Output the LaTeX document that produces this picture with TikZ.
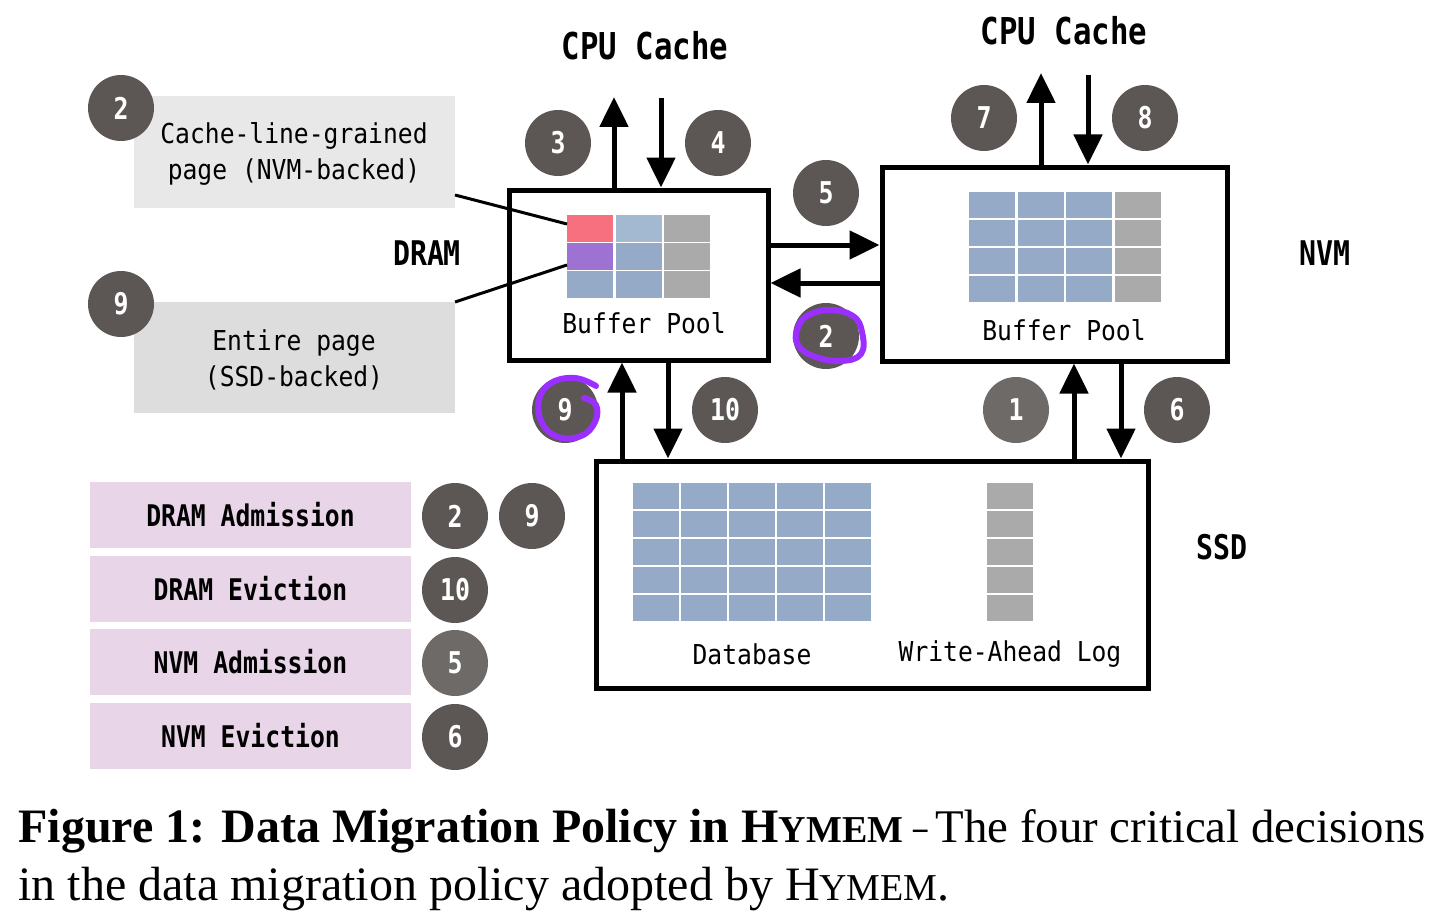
\documentclass[tikz,border=0pt]{standalone}
\usepackage{fontspec}
\usetikzlibrary{arrows.meta,fit}
\newfontfamily\monoR{DejaVu Sans Mono}[FakeStretch=0.9]
\newfontfamily\monoB{DejaVu Sans Mono}[FakeStretch=0.83]
\newfontfamily\captf{Liberation Serif}[Ligatures=TeX]
\definecolor{cblue}{HTML}{94AAC7}
\definecolor{clblue}{HTML}{A3B9D2}
\definecolor{cgray}{HTML}{AAAAAA}
\definecolor{cpink}{HTML}{F7707F}
\definecolor{cpurp}{HTML}{9E72D3}
\definecolor{legbg}{HTML}{E8D5E8}
\definecolor{boxA}{HTML}{E8E8E8}
\definecolor{boxB}{HTML}{DDDDDD}
\definecolor{cdark}{HTML}{5C5754}
\definecolor{clight}{HTML}{6E6A67}
\definecolor{annot}{HTML}{9B2FFF}
\tikzset{
  hwbox/.style={draw=black, line width=2.5pt, inner sep=0pt},
  arr/.style={line width=2.5pt, -{Triangle[length=15pt,width=14pt]}},
  num/.style={circle, fill=cdark, minimum size=33pt, inner sep=0pt, text=white,
    font=\monoB\bfseries\fontsize{15}{15}\selectfont},
  numl/.style={num, fill=clight},
  reg/.style={font=\monoR\fontsize{13.7}{18}\selectfont, align=center},
  lbl/.style={font=\monoB\bfseries\fontsize{17}{17}\selectfont},
  cpu/.style={font=\monoB\bfseries\fontsize{18.5}{18.5}\selectfont},
  leg/.style={fill=legbg, minimum width=160.5pt, minimum height=33pt, inner sep=0pt,
    font=\monoB\bfseries\fontsize{14.9}{14.9}\selectfont},
  conn/.style={line width=1.5pt},
  annotline/.style={draw=annot, line width=3pt, line cap=round, line join=round}
}
\begin{document}
\begin{tikzpicture}[x=0.5pt,y=-0.5pt]
\useasboundingbox (0,0) rectangle (1456,920);

% ---------- left info boxes ----------
\fill[boxA] (134,96) rectangle (455,208);
\fill[boxB] (134,302) rectangle (455,413);
\node[reg] (tA) at (294,154) {Cache-line-grained\\page (NVM-backed)};
\node[reg] (tB) at (294,360) {Entire page\\(SSD-backed)};
\node[num] (nA) at (121,108) {2};
\node[num] (nB) at (121,304) {9};
\coordinate (eA) at (455,195);
\coordinate (eB) at (455,302);

% ---------- labels ----------
\node[lbl] (ldram) at (427,253) {DRAM};
\node[lbl] (lnvm) at (1325,253) {NVM};
\node[lbl] (lssd) at (1222,547) {SSD};
\node[cpu] (cpu1) at (645,46) {CPU Cache};
\node[cpu] (cpu2) at (1064,31) {CPU Cache};

% ---------- DRAM box ----------
\node[hwbox, fit={(509,190) (768,360)}] (dram) {};
\foreach \c/\x in {0/567,1/615.5,2/664}{
  \foreach \r/\y in {0/215,1/243,2/271}{
    \ifnum\c=2 \fill[cgray] (\x,\y) rectangle ++(46,27);
    \else \fill[cblue] (\x,\y) rectangle ++(46,27); \fi
  }
}
\fill[cpink] (567,215) rectangle ++(46,27);
\fill[cpurp] (567,243) rectangle ++(46,27);
\fill[clblue] (615.5,215) rectangle ++(46,27);
\coordinate (pinkc) at (567,224);
\coordinate (purpc) at (567,265);
\node[reg] (bp1) at (644,323) {Buffer Pool};

% ---------- NVM box ----------
\node[hwbox, fit={(882,167) (1227,361)}] (nvm) {};
\foreach \c/\x in {0/969,1/1017.5,2/1066,3/1114.5}{
  \foreach \r/\y in {0/192,1/220,2/248,3/276}{
    \ifnum\c=3 \fill[cgray] (\x,\y) rectangle ++(46,26);
    \else \fill[cblue] (\x,\y) rectangle ++(46,26); \fi
  }
}
\node[reg] (bp2) at (1064,330) {Buffer Pool};

% ---------- SSD box ----------
\node[hwbox, fit={(596,461) (1148,688)}] (ssd) {};
\foreach \x in {633,681,729,777,825}{
  \foreach \y in {483,511,539,567,595}{
    \fill[cblue] (\x,\y) rectangle ++(46,26);
  }
}
\foreach \y in {483,511,539,567,595}{
  \fill[cgray] (987,\y) rectangle ++(46,26);
}
\node[reg] (tdb) at (752,654) {Database};
\node[reg] (twal) at (1010,654) {Write-Ahead Log};

% ---------- connectors from info boxes ----------
\draw[conn] (eA) -- (pinkc);
\draw[conn] (eB) -- (purpc);

% ---------- arrows ----------
\coordinate (a3) at (614,97);
\coordinate (a4) at (661,98);
\draw[arr] (dram.north -| a3) -- (a3);
\draw[arr] (a4) -- (dram.north -| a4);
\coordinate (a7) at (1041,73);
\coordinate (a8) at (1088,75);
\draw[arr] (nvm.north -| a7) -- (a7);
\draw[arr] (a8) -- (nvm.north -| a8);
\coordinate (h1) at (0,245);
\coordinate (h2) at (0,283);
\draw[arr] (dram.east |- h1) -- (nvm.west |- h1);
\draw[arr] (nvm.west |- h2) -- (dram.east |- h2);
\coordinate (v9) at (622,0);
\coordinate (v10) at (668,0);
\draw[arr] (ssd.north -| v9) -- (dram.south -| v9);
\draw[arr] (dram.south -| v10) -- (ssd.north -| v10);
\coordinate (v1) at (1074,0);
\coordinate (v6) at (1121,0);
\draw[arr] (ssd.north -| v1) -- (nvm.south -| v1);
\draw[arr] (nvm.south -| v6) -- (ssd.north -| v6);

% ---------- numbered circles ----------
\node[num] (n3) at (558,143) {3};
\node[num] (n4) at (718,143) {4};
\node[num] (n7) at (984,118) {7};
\node[num] (n8) at (1145,118) {8};
\node[num] (n5) at (826,193) {5};
\node[num] (n2b) at (826,336) {2};
\node[num] (n9b) at (565,410) {9};
\node[num] (n10) at (725,410) {10};
\node[numl] (n1) at (1016,410) {1};
\node[num] (n6) at (1177,410) {6};

% ---------- hand-drawn annotations ----------
\draw[annotline] plot[smooth cycle, tension=0.7] coordinates
  {(797,330) (807,316) (830,310) (853,316) (862,332) (861,354) (840,361) (813,356) (798,345)};
\draw[annotline] plot[smooth, tension=0.7] coordinates
  {(596,386) (575,378) (551,383) (539,400) (542,423) (558,437) (581,436) (595,422) (596,405) (584,398)};

% ---------- legend ----------
\node[leg] (L1) at (250.5,515) {DRAM Admission};
\node[leg] (L2) at (250.5,589) {DRAM Eviction};
\node[leg] (L3) at (250.5,662) {NVM Admission};
\node[leg] (L4) at (250.5,736) {NVM Eviction};
\node[num] (m2) at (455,516) {2};
\node[num] (m9) at (532,516) {9};
\node[num] (m10) at (455,590) {10};
\node[numl] (m5) at (455,663) {5};
\node[num] (m6) at (455,737) {6};

% ---------- caption ----------
\node[anchor=base west, inner sep=0pt, font=\captf\fontsize{24}{24}\selectfont] (cap1) at (18,842)
  {\textbf{Figure 1: Data Migration Policy in H{\fontsize{19}{19}\selectfont YMEM}}\hspace{5pt}\scalebox{0.6}[1]{–}\hspace{4pt}{\fontsize{23.4}{24}\selectfont The four critical decisions}};
\node[anchor=base west, inner sep=0pt, font=\captf\fontsize{24}{24}\selectfont] (cap2) at (18,900)
  {in the data migration policy adopted by H{\fontsize{19}{19}\selectfont YMEM}.};
\end{tikzpicture}
\end{document}
